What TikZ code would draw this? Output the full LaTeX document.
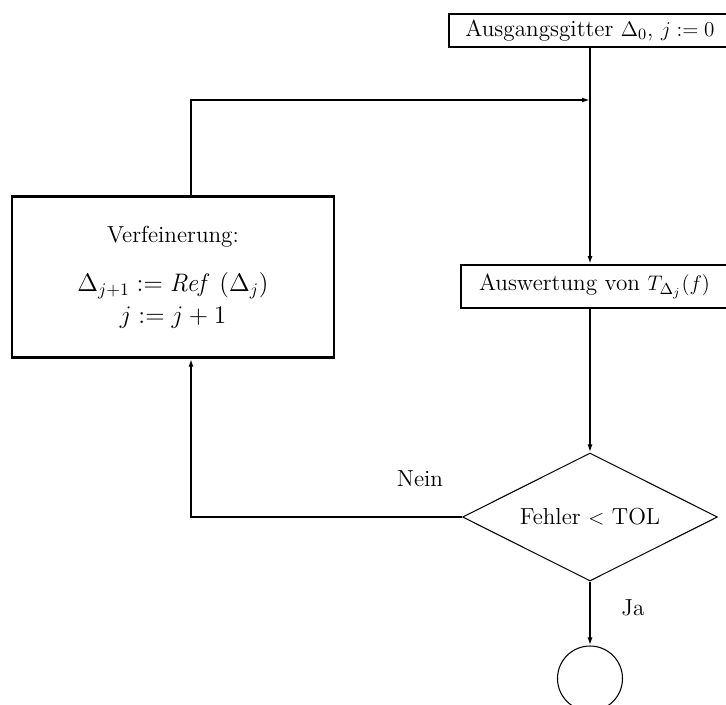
\documentclass[tikz,border=0pt]{standalone}
\usepackage{tikz}
\usetikzlibrary{arrows.meta,positioning,calc,shapes.geometric}
\usepackage{amsmath}
\tikzset{
  fcBox/.style={draw, line width=1.1pt, align=center, inner sep=2pt},
  fcRef/.style={draw, line width=1.4pt, align=center,
    minimum width=6.44cm, minimum height=3.22cm},
  fcTest/.style={draw, line width=0.6pt, diamond, aspect=2,
    minimum width=5.1cm, minimum height=2.56cm, inner sep=0pt},
  fcStop/.style={draw, line width=0.6pt, circle, minimum size=1.3cm},
  %% Connectors
  fcflow/.style={-{Latex[length=1.6mm,width=1mm]}, line width=1.1pt},
}

\begin{document}
\begin{tikzpicture}[x=1cm, y=1cm, font=\fontsize{13.2}{18}\selectfont]
\useasboundingbox (0,0) rectangle (14.52,-14.08);

\node[fcBox, minimum width=5.64cm, minimum height=0.66cm] (start) at (11.8,-0.61)
  {Ausgangsgitter $\Delta_0$, $j := 0$};
\node[fcBox, minimum width=5.34cm, minimum height=0.86cm] (eval) at (11.89,-5.73)
  {Auswertung von $T_{\Delta_j}(f)$};
\node[fcTest] (test) at (11.8,-10.34) {Fehler $<$ TOL};
\node[fcStop] (stop) at (11.8,-13.57) {};
\node[fcRef]  (refine) at (3.46,-5.54)
  {Verfeinerung:\\[10pt]
   \fontsize{14.8}{18}\selectfont $\Delta_{j+1} := \mathit{Ref}\ (\Delta_j)$\\
   \fontsize{14.8}{18}\selectfont $j := j+1$};

\coordinate (join) at (11.8,-2.0);
\coordinate (back) at (3.82,-2.0);

\draw[fcflow] (start.south) -- (start.south |- eval.north);
\draw[fcflow] (start.south |- eval.south) -- (test.north);
\draw[fcflow] (test.south) -- (stop.north);
\draw[fcflow] (test.west) -| (back |- refine.south);
\draw[fcflow] (back |- refine.north) |- (join);

\node (nein) at (8.4,-9.58) {Nein};
\node (ja)   at (12.66,-12.16) {Ja};

\end{tikzpicture}
\end{document}
